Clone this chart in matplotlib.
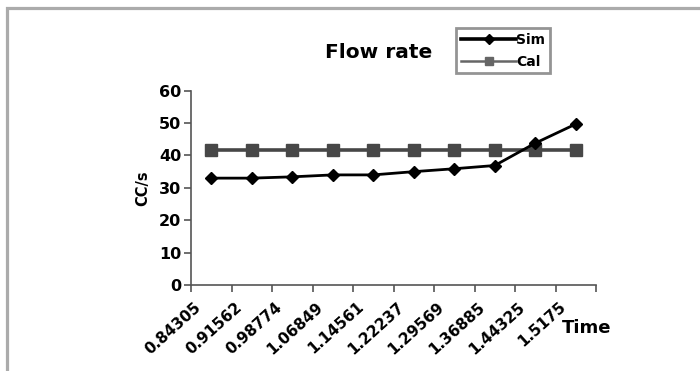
import matplotlib
matplotlib.use("Agg")
import matplotlib.pyplot as plt
import matplotlib.transforms as mtransforms
from matplotlib.patches import Rectangle
import numpy as np

times = ["0.84305", "0.91562", "0.98774", "1.06849", "1.14561",
         "1.22237", "1.29569", "1.36885", "1.44325", "1.5175"]
sim = [33.0, 33.0, 33.4, 34.0, 34.0, 35.0, 35.9, 36.9, 43.8, 49.7]
cal = [41.7, 41.7, 41.7, 41.7, 41.7, 41.7, 41.7, 41.7, 41.7, 41.7]
yticks = [0, 10, 20, 30, 40, 50, 60]

W, H = 700, 371
fig = plt.figure(figsize=(W / 100, H / 100), dpi=100)
plt.rcParams['font.family'] = ['DejaVu Sans']

# grey outer frame, runs off the right and bottom edges
fig.patches.append(Rectangle((6.5 / W, -0.1), 1.2, 1 - 7.5 / H + 0.1,
                             transform=fig.transFigure, fill=False,
                             edgecolor='#ababab', linewidth=2.3))

left, right, top, bottom = 191, 596, 90.7, 285
ax = fig.add_axes([left / W, 1 - bottom / H, (right - left) / W, (bottom - top) / H])
ax.set_facecolor('none')

x = np.arange(len(times))
ax.plot(x, cal, color='#474747', linewidth=2.6, marker='s', markersize=8.5,
        label='Cal', zorder=3)
ax.plot(x, sim, color='black', linewidth=2.0, marker='D', markersize=6.3,
        label='Sim', zorder=4)

ax.set_xlim(-0.5, len(times) - 0.5)
ax.set_ylim(0, 60)
ax.set_yticks(yticks)
ax.set_yticklabels([str(v) for v in yticks], fontsize=11.5, fontweight='bold')

# boundaries carry the tick marks, centres carry the labels
ax.set_xticks(np.arange(-0.5, len(times), 1.0), minor=True)
ax.set_xticks(x)
ax.set_xticklabels(times, rotation=42, ha='right', rotation_mode='anchor',
                   fontsize=11, fontweight='bold')
ax.tick_params(axis='x', which='major', length=0, pad=11)
ax.tick_params(axis='x', which='minor', length=5, width=1.2, color='#555555',
               direction='out')
ax.tick_params(axis='y', length=5, width=1.2, color='#555555', direction='out',
               pad=2)
shift = mtransforms.ScaledTranslation(-17 / 100, 1 / 100, fig.dpi_scale_trans)
for lbl in ax.get_xticklabels():
    lbl.set_transform(lbl.get_transform() + shift)

for side in ['top', 'right']:
    ax.spines[side].set_visible(False)
for side in ['left', 'bottom']:
    ax.spines[side].set_color('#555555')
    ax.spines[side].set_linewidth(1.2)

ax.set_ylabel('CC/s', fontsize=10.5, fontweight='bold', labelpad=6)
fig.text(587 / W, 1 - 328 / H, 'Time', fontsize=13, fontweight='bold',
         ha='center', va='center')
fig.text(379 / W, 1 - 53 / H, 'Flow rate', fontsize=14.5, fontweight='bold',
         ha='center', va='center')

handles, labels = ax.get_legend_handles_labels()
leg = fig.legend(handles[::-1], labels[::-1], loc='upper left',
                 bbox_to_anchor=(456 / W, 1 - 28 / H),
                 prop={'size': 10, 'weight': 'bold'}, frameon=True,
                 fancybox=False, handlelength=4.0, handletextpad=0.0,
                 borderpad=0.35, labelspacing=0.55, borderaxespad=0,
                 markerscale=0.75)
leg.get_frame().set_edgecolor('#7a7a7a')
leg.get_frame().set_linewidth(2.0)
leg_lines = leg.get_lines()
leg_lines[0].set_linewidth(2.6)
leg_lines[1].set_linewidth(1.8)
leg_lines[1].set_color('#666666')

fig.savefig('out.png', dpi=100)
